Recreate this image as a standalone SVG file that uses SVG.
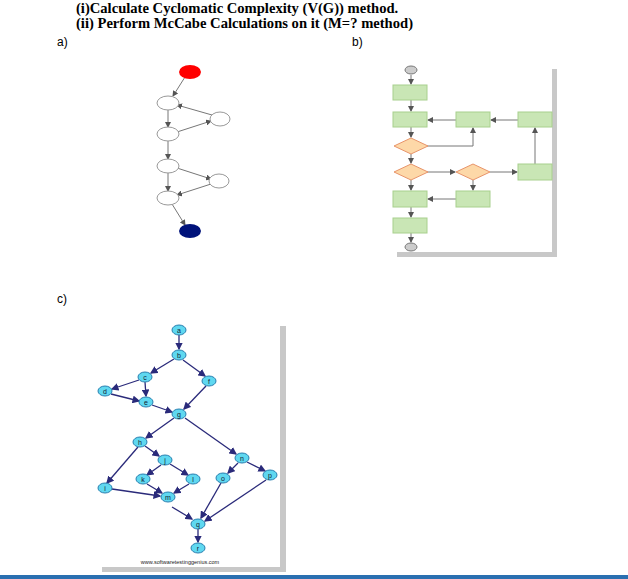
<svg xmlns="http://www.w3.org/2000/svg" width="628" height="579" viewBox="0 0 628 579">
<style>
.t{font-family:"Liberation Serif",serif;font-weight:bold;font-size:14.6px}
.l{font-family:"Liberation Sans",sans-serif;font-size:12px}
.wn{fill:#fff;stroke:#999;stroke-width:1}
.ae{stroke:#777;stroke-width:1;fill:none;marker-end:url(#ga)}
.bx{fill:#c9e6b5;stroke:#a8d08d;stroke-width:1}
.dm{fill:#fdd8a8;stroke:#e8946a;stroke-width:1}
.be{stroke:#777;stroke-width:1;fill:none;marker-end:url(#ga)}
.cn{fill:#5fd8f0;stroke:#2a7fb0;stroke-width:1}
.ce{stroke:#2a2a7a;stroke-width:1.3;fill:none;marker-end:url(#na)}
.ct{font-family:"Liberation Sans",sans-serif;font-size:7px;text-anchor:middle;fill:#123}
.sh{fill:#c8c8c8}
</style>
<defs>
<marker id="ga" markerWidth="6" markerHeight="6" refX="5" refY="3" orient="auto"><path d="M0,0L6,3L0,6z" fill="#555"/></marker>
<marker id="na" markerWidth="6" markerHeight="6" refX="5" refY="3" orient="auto"><path d="M0,0L6,3L0,6z" fill="#2a2a7a"/></marker>
</defs>
<rect width="628" height="579" fill="#fff"/>
<text class="t" x="76" y="13">(i)Calculate Cyclomatic Complexity (V(G)) method.</text>
<text class="t" x="76" y="28">(ii) Perform McCabe Calculations on it (M=? method)</text>
<text class="l" x="57" y="46">a)</text>
<text class="l" x="352" y="46">b)</text>
<text class="l" x="57" y="303">c)</text>

<!-- graph a -->
<g id="graphA">
<g id="a-edges">
<line class="ae" x1="185" y1="77" x2="173" y2="96"/>
<line class="ae" x1="168" y1="109" x2="168" y2="127"/>
<line class="ae" x1="177" y1="132" x2="211" y2="121"/>
<line class="ae" x1="212" y1="115" x2="177" y2="105"/>
<line class="ae" x1="168" y1="141" x2="168" y2="159"/>
<line class="ae" x1="177" y1="168" x2="211" y2="179"/>
<line class="ae" x1="211" y1="184" x2="177" y2="195"/>
<line class="ae" x1="168" y1="172" x2="168" y2="191"/>
<line class="ae" x1="172" y1="204" x2="185" y2="225"/>
</g>
<ellipse id="a-start" cx="190" cy="72" rx="11" ry="7" fill="#f00"/>
<ellipse id="a-n1" class="wn" cx="168" cy="103" rx="11" ry="7"/>
<ellipse id="a-r1" class="wn" cx="220" cy="119" rx="10" ry="7"/>
<ellipse id="a-n2" class="wn" cx="168" cy="134" rx="11" ry="7"/>
<ellipse id="a-n3" class="wn" cx="168" cy="166" rx="11" ry="7"/>
<ellipse id="a-r2" class="wn" cx="219" cy="181" rx="10" ry="7"/>
<ellipse id="a-n4" class="wn" cx="168" cy="198" rx="11" ry="7"/>
<ellipse id="a-end" cx="190" cy="231" rx="11" ry="7" fill="#00127a"/>
</g>

<!-- graph b -->
<g id="graphB">
<rect class="sh" x="397" y="69" width="160" height="188"/>
<rect x="393" y="65" width="159" height="187" fill="#fff"/>
<g id="b-edges">
<line class="be" x1="411" y1="75" x2="411" y2="84"/>
<line class="be" x1="411" y1="100" x2="411" y2="111"/>
<line class="be" x1="411" y1="127" x2="411" y2="137"/>
<line class="be" x1="411" y1="154" x2="411" y2="163"/>
<line class="be" x1="411" y1="180" x2="411" y2="190"/>
<line class="be" x1="411" y1="207" x2="411" y2="217"/>
<line class="be" x1="411" y1="233" x2="411" y2="242"/>
<polyline class="be" points="427,146 473,146 473,128"/>
<line class="be" x1="518" y1="120" x2="491" y2="120"/>
<line class="be" x1="456" y1="120" x2="428" y2="120"/>
<line class="be" x1="427" y1="172" x2="455" y2="172"/>
<line class="be" x1="490" y1="172" x2="517" y2="172"/>
<line class="be" x1="535" y1="164" x2="535" y2="128"/>
<line class="be" x1="473" y1="180" x2="473" y2="190"/>
<line class="be" x1="456" y1="199" x2="428" y2="199"/>
</g>
<ellipse id="b-start" cx="411" cy="70" rx="6" ry="4" fill="#ccc" stroke="#777"/>
<rect id="b-box1" class="bx" x="393" y="85" width="34" height="15"/>
<rect id="b-box2" class="bx" x="393" y="112" width="34" height="15"/>
<rect id="b-boxM" class="bx" x="456" y="112" width="34" height="15"/>
<rect id="b-boxR" class="bx" x="518" y="112" width="34" height="15"/>
<polygon id="b-d1" class="dm" points="394,146 411,138 428,146 411,154"/>
<polygon id="b-d2" class="dm" points="394,172 411,164 428,172 411,180"/>
<polygon id="b-d3" class="dm" points="456,172 473,164 490,172 473,180"/>
<rect id="b-boxR2" class="bx" x="518" y="164" width="34" height="16"/>
<rect id="b-box3" class="bx" x="393" y="191" width="34" height="16"/>
<rect id="b-boxM2" class="bx" x="456" y="191" width="34" height="16"/>
<rect id="b-box4" class="bx" x="393" y="218" width="34" height="15"/>
<ellipse id="b-end" cx="411" cy="247" rx="6" ry="4" fill="#ccc" stroke="#777"/>
</g>

<!-- graph c -->
<g id="graphC">
<rect class="sh" x="102" y="326" width="184" height="246"/>
<rect x="98" y="322" width="182" height="245" fill="#fff"/>
<g id="c-edges">
<line class="ce" x1="179" y1="335" x2="179" y2="349"/>
<line class="ce" x1="174" y1="359" x2="151" y2="373"/>
<line class="ce" x1="183" y1="360" x2="205" y2="376"/>
<line class="ce" x1="139" y1="380" x2="112" y2="389"/>
<line class="ce" x1="145" y1="382" x2="146" y2="396"/>
<line class="ce" x1="111" y1="394" x2="139" y2="401"/>
<line class="ce" x1="152" y1="405" x2="172" y2="412"/>
<line class="ce" x1="206" y1="386" x2="184" y2="409"/>
<line class="ce" x1="174" y1="418" x2="146" y2="438"/>
<line class="ce" x1="185" y1="418" x2="236" y2="454"/>
<line class="ce" x1="138" y1="447" x2="107" y2="483"/>
<line class="ce" x1="145" y1="446" x2="159" y2="456"/>
<line class="ce" x1="161" y1="465" x2="147" y2="475"/>
<line class="ce" x1="170" y1="464" x2="188" y2="475"/>
<line class="ce" x1="147" y1="484" x2="162" y2="493"/>
<line class="ce" x1="189" y1="484" x2="174" y2="493"/>
<line class="ce" x1="112" y1="489" x2="160" y2="496"/>
<line class="ce" x1="172" y1="507" x2="192" y2="519"/>
<line class="ce" x1="238" y1="463" x2="228" y2="473"/>
<line class="ce" x1="247" y1="462" x2="265" y2="471"/>
<line class="ce" x1="221" y1="483" x2="201" y2="518"/>
<line class="ce" x1="266" y1="480" x2="205" y2="521"/>
<line class="ce" x1="198" y1="529" x2="198" y2="542"/>
</g>
<g id="c-a"><ellipse class="cn" cx="179" cy="330" rx="7" ry="5"/><text class="ct" x="179" y="332.5">a</text></g>
<g id="c-b"><ellipse class="cn" cx="179" cy="355" rx="7" ry="5"/><text class="ct" x="179" y="357.5">b</text></g>
<g id="c-c"><ellipse class="cn" cx="145" cy="377" rx="7" ry="5"/><text class="ct" x="145" y="379.5">c</text></g>
<g id="c-f"><ellipse class="cn" cx="209" cy="381" rx="7" ry="5"/><text class="ct" x="209" y="383.5">f</text></g>
<g id="c-d"><ellipse class="cn" cx="105" cy="391" rx="7" ry="5"/><text class="ct" x="105" y="393.5">d</text></g>
<g id="c-e"><ellipse class="cn" cx="146" cy="402" rx="7" ry="5"/><text class="ct" x="146" y="404.5">e</text></g>
<g id="c-g"><ellipse class="cn" cx="179" cy="414" rx="7" ry="5"/><text class="ct" x="179" y="416.5">g</text></g>
<g id="c-h"><ellipse class="cn" cx="140" cy="442" rx="7" ry="5"/><text class="ct" x="140" y="444.5">h</text></g>
<g id="c-j"><ellipse class="cn" cx="165" cy="460" rx="7" ry="5"/><text class="ct" x="165" y="462.5">j</text></g>
<g id="c-n"><ellipse class="cn" cx="242" cy="458" rx="7" ry="5"/><text class="ct" x="242" y="460.5">n</text></g>
<g id="c-k"><ellipse class="cn" cx="143" cy="479" rx="7" ry="5"/><text class="ct" x="143" y="481.5">k</text></g>
<g id="c-l"><ellipse class="cn" cx="193" cy="479" rx="7" ry="5"/><text class="ct" x="193" y="481.5">l</text></g>
<g id="c-o"><ellipse class="cn" cx="223" cy="478" rx="7" ry="5"/><text class="ct" x="223" y="480.5">o</text></g>
<g id="c-p"><ellipse class="cn" cx="270" cy="475" rx="7" ry="5"/><text class="ct" x="270" y="477.5">p</text></g>
<g id="c-i"><ellipse class="cn" cx="105" cy="488" rx="7" ry="5"/><text class="ct" x="105" y="490.5">i</text></g>
<g id="c-m"><ellipse class="cn" cx="168" cy="497" rx="7" ry="5"/><text class="ct" x="168" y="499.5">m</text></g>
<g id="c-q"><ellipse class="cn" cx="198" cy="524" rx="7" ry="5"/><text class="ct" x="198" y="526.5">q</text></g>
<g id="c-r"><ellipse class="cn" cx="198" cy="548" rx="7" ry="5"/><text class="ct" x="198" y="550.5">r</text></g>
<text x="180" y="564" font-family="Liberation Sans,sans-serif" font-size="5.5" text-anchor="middle" fill="#222">www.softwaretestinggenius.com</text>
</g>
<rect x="0" y="575" width="628" height="4" fill="#2a6fb0"/>
</svg>
